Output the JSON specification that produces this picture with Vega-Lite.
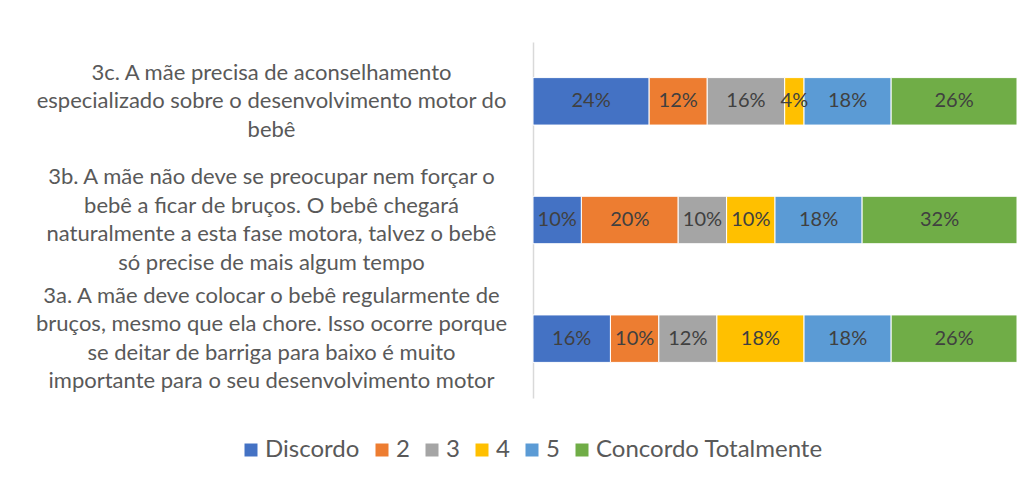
{
  "$schema": "https://vega.github.io/schema/vega-lite/v6.json",
  "width": 484,
  "height": 356,
  "autosize": {"type": "none"},
  "padding": {"left": 533, "top": 42, "right": 15, "bottom": 89},
  "background": "white",
  "config": {"view": {"stroke": null}, "font": "Lato"},
  "data": {
    "values": [
      {"item": "3c. A mãe precisa de aconselhamento\nespecializado sobre o desenvolvimento motor do\nbebê", "resposta": "Discordo", "nivel": 1, "valor": 0.24},
      {"item": "3c. A mãe precisa de aconselhamento\nespecializado sobre o desenvolvimento motor do\nbebê", "resposta": "2", "nivel": 2, "valor": 0.12},
      {"item": "3c. A mãe precisa de aconselhamento\nespecializado sobre o desenvolvimento motor do\nbebê", "resposta": "3", "nivel": 3, "valor": 0.16},
      {"item": "3c. A mãe precisa de aconselhamento\nespecializado sobre o desenvolvimento motor do\nbebê", "resposta": "4", "nivel": 4, "valor": 0.04},
      {"item": "3c. A mãe precisa de aconselhamento\nespecializado sobre o desenvolvimento motor do\nbebê", "resposta": "5", "nivel": 5, "valor": 0.18},
      {"item": "3c. A mãe precisa de aconselhamento\nespecializado sobre o desenvolvimento motor do\nbebê", "resposta": "Concordo Totalmente", "nivel": 6, "valor": 0.26},
      {"item": "3b. A mãe não deve se preocupar nem forçar o\nbebê a ficar de bruços. O bebê chegará\nnaturalmente a esta fase motora, talvez o bebê\nsó precise de mais algum tempo", "resposta": "Discordo", "nivel": 1, "valor": 0.10},
      {"item": "3b. A mãe não deve se preocupar nem forçar o\nbebê a ficar de bruços. O bebê chegará\nnaturalmente a esta fase motora, talvez o bebê\nsó precise de mais algum tempo", "resposta": "2", "nivel": 2, "valor": 0.20},
      {"item": "3b. A mãe não deve se preocupar nem forçar o\nbebê a ficar de bruços. O bebê chegará\nnaturalmente a esta fase motora, talvez o bebê\nsó precise de mais algum tempo", "resposta": "3", "nivel": 3, "valor": 0.10},
      {"item": "3b. A mãe não deve se preocupar nem forçar o\nbebê a ficar de bruços. O bebê chegará\nnaturalmente a esta fase motora, talvez o bebê\nsó precise de mais algum tempo", "resposta": "4", "nivel": 4, "valor": 0.10},
      {"item": "3b. A mãe não deve se preocupar nem forçar o\nbebê a ficar de bruços. O bebê chegará\nnaturalmente a esta fase motora, talvez o bebê\nsó precise de mais algum tempo", "resposta": "5", "nivel": 5, "valor": 0.18},
      {"item": "3b. A mãe não deve se preocupar nem forçar o\nbebê a ficar de bruços. O bebê chegará\nnaturalmente a esta fase motora, talvez o bebê\nsó precise de mais algum tempo", "resposta": "Concordo Totalmente", "nivel": 6, "valor": 0.32},
      {"item": "3a. A mãe deve colocar o bebê regularmente de\nbruços, mesmo que ela chore. Isso ocorre porque\nse deitar de barriga para baixo é muito\nimportante para o seu desenvolvimento motor", "resposta": "Discordo", "nivel": 1, "valor": 0.16},
      {"item": "3a. A mãe deve colocar o bebê regularmente de\nbruços, mesmo que ela chore. Isso ocorre porque\nse deitar de barriga para baixo é muito\nimportante para o seu desenvolvimento motor", "resposta": "2", "nivel": 2, "valor": 0.10},
      {"item": "3a. A mãe deve colocar o bebê regularmente de\nbruços, mesmo que ela chore. Isso ocorre porque\nse deitar de barriga para baixo é muito\nimportante para o seu desenvolvimento motor", "resposta": "3", "nivel": 3, "valor": 0.12},
      {"item": "3a. A mãe deve colocar o bebê regularmente de\nbruços, mesmo que ela chore. Isso ocorre porque\nse deitar de barriga para baixo é muito\nimportante para o seu desenvolvimento motor", "resposta": "4", "nivel": 4, "valor": 0.18},
      {"item": "3a. A mãe deve colocar o bebê regularmente de\nbruços, mesmo que ela chore. Isso ocorre porque\nse deitar de barriga para baixo é muito\nimportante para o seu desenvolvimento motor", "resposta": "5", "nivel": 5, "valor": 0.18},
      {"item": "3a. A mãe deve colocar o bebê regularmente de\nbruços, mesmo que ela chore. Isso ocorre porque\nse deitar de barriga para baixo é muito\nimportante para o seu desenvolvimento motor", "resposta": "Concordo Totalmente", "nivel": 6, "valor": 0.26}
    ]
  },
  "encoding": {
    "y": {
      "field": "item",
      "type": "nominal",
      "sort": [
        "3c. A mãe precisa de aconselhamento\nespecializado sobre o desenvolvimento motor do\nbebê",
        "3b. A mãe não deve se preocupar nem forçar o\nbebê a ficar de bruços. O bebê chegará\nnaturalmente a esta fase motora, talvez o bebê\nsó precise de mais algum tempo",
        "3a. A mãe deve colocar o bebê regularmente de\nbruços, mesmo que ela chore. Isso ocorre porque\nse deitar de barriga para baixo é muito\nimportante para o seu desenvolvimento motor"
      ],
      "scale": {"paddingInner": 0.6, "paddingOuter": 0.3},
      "axis": {
        "title": null,
        "ticks": false,
        "domainColor": "#d9d9d9",
        "domainWidth": 1.5,
        "labelAlign": "center",
        "labelBaseline": "middle",
        "labelPadding": 262,
        "labelFont": "Lato",
        "labelFontSize": 22,
        "labelColor": "#595959",
        "labelLineHeight": 28.5,
        "labelLimit": 0,
        "labelOffset": {"condition": {"test": "indexof(datum.value, '3c') == 0", "value": -28.5}, "value": -42.75},
        "labelExpr": "split(datum.value, '\\n')"
      }
    }
  },
  "layer": [
    {
      "mark": {"type": "bar", "stroke": "white", "strokeWidth": 1},
      "encoding": {
        "x": {"field": "valor", "type": "quantitative", "stack": "zero", "scale": {"domain": [0, 1]}, "axis": null},
        "color": {
          "field": "resposta",
          "type": "nominal",
          "scale": {
            "domain": ["Discordo", "2", "3", "4", "5", "Concordo Totalmente"],
            "range": ["#4472C4", "#ED7D31", "#A5A5A5", "#FFC000", "#5B9BD5", "#70AD47"]
          },
          "legend": {
            "title": null,
            "orient": "none",
            "direction": "horizontal",
            "legendX": -294,
            "legendY": 396,
            "symbolType": "square",
            "symbolSize": 169,
            "symbolStrokeWidth": 0,
            "labelFont": "Lato",
            "labelFontSize": 24,
            "labelColor": "#595959",
            "labelOffset": 2,
            "labelLimit": 0,
            "columnPadding": 10
          }
        },
        "order": {"field": "nivel", "type": "quantitative"}
      }
    },
    {
      "mark": {"type": "text", "fontSize": 20, "color": "#404040", "font": "Lato", "baseline": "middle"},
      "encoding": {
        "x": {"field": "valor", "type": "quantitative", "stack": "zero", "bandPosition": 0.5, "scale": {"domain": [0, 1]}, "axis": null},
        "detail": {"field": "resposta", "type": "nominal"},
        "order": {"field": "nivel", "type": "quantitative"},
        "text": {"field": "valor", "type": "quantitative", "format": ".0%"}
      }
    }
  ]
}
